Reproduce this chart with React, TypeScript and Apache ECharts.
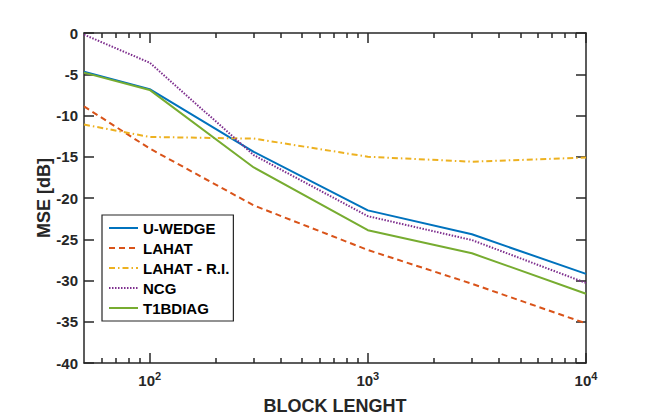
import React, { useEffect, useRef } from "react";
import * as echarts from "echarts";

const blockLengths = [50, 100, 300, 1000, 3000, 10000];
const seriesNames = ["U-WEDGE", "LAHAT", "LAHAT - R.I.", "NCG", "T1BDIAG"];
const uWedge = [-4.7, -6.8, -14.4, -21.5, -24.4, -29.2];
const lahat = [-8.9, -14.0, -20.9, -26.3, -30.4, -35.2];
const lahatRI = [-11.1, -12.6, -12.8, -15.0, -15.6, -15.1];
const ncg = [-0.2, -3.6, -14.8, -22.2, -25.1, -30.3];
const t1bdiag = [-4.8, -6.9, -16.3, -23.9, -26.7, -31.6];
const xMajorTicks = [100, 1000, 10000];
const xMinorTicks = [60, 70, 80, 90, 200, 300, 400, 500, 600, 700, 800, 900, 2000, 3000, 4000, 5000, 6000, 7000, 8000, 9000];
const xMin = 50;
const xMax = 10000;
const yMin = -40;
const yMax = 0;
const yStep = 5;

const FONT = "'Liberation Sans', Arial, Helvetica, sans-serif";
const AX = "#262626";
const colors = ["#0072BD", "#D95319", "#EDB120", "#7E2F8E", "#77AC30"];
const dashes: any[] = ["solid", [6, 4], [6, 3, 1.5, 3], [1.5, 1.5], "solid"];
const allValues = [uWedge, lahat, lahatRI, ncg, t1bdiag];

const lg = (v: number) => Math.log10(v);

export default function App() {
  const ref = useRef<HTMLDivElement>(null);
  useEffect(() => {
    if (!ref.current) return;
    const chart = echarts.init(ref.current, undefined, { renderer: "svg" });
    const lineStyle = { color: AX, width: 1.5 };
    const baseX = {
      type: "value",
      min: lg(xMin),
      max: lg(xMax),
      splitLine: { show: false },
    };
    const majors = xMajorTicks.map(lg);
    const minors = xMinorTicks.map(lg);
    const option: any = {
      animation: false,
      grid: { left: 84, right: 62, top: 33, bottom: 57, outerBoundsMode: "none" },
      legend: {
        orient: "vertical",
        left: 102,
        top: 215,
        data: seriesNames,
        selectedMode: false,
        backgroundColor: "#fff",
        borderColor: AX,
        borderWidth: 1.2,
        borderRadius: 0,
        padding: [5, 4, 5, 6],
        itemGap: 4,
        itemWidth: 29,
        itemHeight: 16,
        itemStyle: { opacity: 0 },
        textStyle: { color: "#000", fontSize: 15, fontWeight: "bold", fontFamily: FONT, lineHeight: 16 },
      },
      xAxis: [
        {
          ...baseX,
          position: "bottom",
          axisLine: { show: true, onZero: false, lineStyle },
          axisTick: { show: true, inside: true, length: 10, customValues: majors, lineStyle },
          axisLabel: {
            show: true,
            customValues: majors,
            margin: 9,
            formatter: (v: number) => `{b|10}{s|${Math.round(v)}}`,
            rich: {
              b: { fontSize: 15, fontWeight: "bold", fontFamily: FONT, color: AX, lineHeight: 16 },
              s: { fontSize: 11, fontWeight: "bold", fontFamily: FONT, color: AX, lineHeight: 11, padding: [0, 0, 9, 0] },
            },
          },
          name: "BLOCK LENGHT",
          nameLocation: "middle",
          nameGap: 34,
          nameTextStyle: { fontSize: 18, fontWeight: "bold", fontFamily: FONT, color: AX },
        },
        {
          ...baseX,
          position: "bottom",
          axisLine: { show: false, onZero: false },
          axisTick: { show: true, inside: true, length: 5, customValues: minors, lineStyle },
          axisLabel: { show: false },
        },
        {
          ...baseX,
          position: "top",
          axisLine: { show: true, onZero: false, lineStyle },
          axisTick: { show: true, inside: true, length: 10, customValues: majors, lineStyle },
          axisLabel: { show: false },
        },
        {
          ...baseX,
          position: "top",
          axisLine: { show: false, onZero: false },
          axisTick: { show: true, inside: true, length: 5, customValues: minors, lineStyle },
          axisLabel: { show: false },
        },
      ],
      yAxis: [
        {
          type: "value",
          position: "left",
          min: yMin,
          max: yMax,
          interval: yStep,
          splitLine: { show: false },
          axisLine: { show: true, onZero: false, lineStyle },
          axisTick: { show: true, inside: true, length: 10, lineStyle },
          axisLabel: { fontSize: 15, fontWeight: "bold", fontFamily: FONT, color: AX, margin: 6 },
          name: "MSE [dB]",
          nameLocation: "middle",
          nameMoveOverlap: false,
          nameGap: 31,
          nameTextStyle: { fontSize: 18, fontWeight: "bold", fontFamily: FONT, color: AX },
        },
        {
          type: "value",
          position: "right",
          min: yMin,
          max: yMax,
          interval: yStep,
          splitLine: { show: false },
          axisLine: { show: true, onZero: false, lineStyle },
          axisTick: { show: true, inside: true, length: 10, lineStyle },
          axisLabel: { show: false },
        },
      ],
      series: seriesNames.map((name, i) => ({
        name,
        type: "line",
        xAxisIndex: 0,
        yAxisIndex: 0,
        symbol: "none",
        smooth: false,
        color: colors[i],
        lineStyle: { color: colors[i], width: 2, type: dashes[i] },
        data: blockLengths.map((b, j) => [lg(b), allValues[i][j]]),
      })),
    };
    chart.setOption(option);
    return () => chart.dispose();
  }, []);
  return (
    <div
      ref={ref}
      style={{ position: "fixed", left: 0, top: 0, width: 648, height: 420, background: "#fff" }}
    />
  );
}
